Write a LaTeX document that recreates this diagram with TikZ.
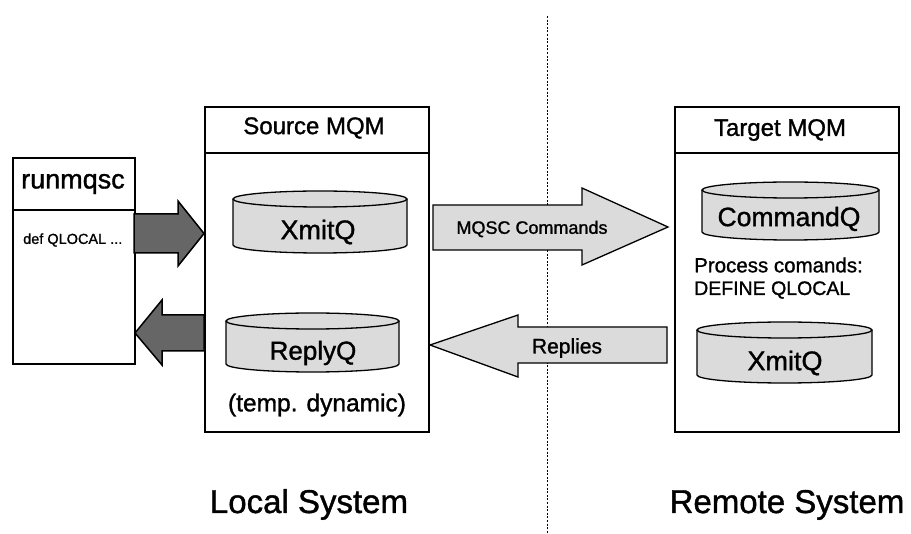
\documentclass[tikz,border=0pt]{standalone}
\usepackage{fontspec}
\setmainfont{Liberation Sans}[FakeBold=1.2]
\definecolor{qfill}{gray}{0.86}
\definecolor{hatchfill}{gray}{0.4}
\tikzset{
  box/.style={draw, line width=1.6pt, inner sep=0pt, anchor=north west},
  divider/.style={line width=1.4pt},
  cylline/.style={line width=1.3pt, fill=qfill},
  blockarrow/.style={draw, line width=1.3pt, line join=miter, fill=qfill},
  darkarrow/.style={draw, line width=1.5pt, line join=miter, fill=hatchfill},
  sep/.style={line width=1pt, dash pattern=on 2pt off 1.6pt},
  lbl/.style={inner sep=0pt},
}
% queue drum: left x, right x, top centre y, bottom centre y
\newcommand\qdrum[4]{%
  \pgfmathsetmacro\drx{(#2-#1)/2}%
  \pgfmathsetmacro\dcx{(#1+#2)/2}%
  \filldraw[cylline] (#1,#3) -- (#1,#4) arc[start angle=180, end angle=0, x radius=\drx, y radius=8] -- (#2,#3);
  \filldraw[cylline] (\dcx,#3) ellipse[x radius=\drx, y radius=8];
}
\begin{document}
\begin{tikzpicture}[x=1pt, y=-1pt]
\useasboundingbox (0,0) rectangle (911,534);

% dividing line between the two systems
\coordinate (septop) at (547,16);
\coordinate (sepbot) at (547,534);
\draw[sep] (septop) -- (sepbot);

% runmqsc panel
\node[box, minimum width=122pt, minimum height=206pt] (run) at (12,157) {};
\draw[divider] (12,210) -- (134,210);
\node[lbl, font=\fontsize{27}{30}\selectfont] (runT) at (73,184) {runmqsc};
\node[lbl, font=\fontsize{14.5}{17}\selectfont, anchor=west] (runC) at (23,240) {def QLOCAL ...};

% source queue manager
\node[box, minimum width=224pt, minimum height=325pt] (src) at (204,106) {};
\draw[divider] (204,153) -- (428,153);
\node[lbl, font=\fontsize{24}{28}\selectfont] (srcT) at (314,128) {Source MQM};
\qdrum{233}{407}{199}{245}
\node[lbl, font=\fontsize{27}{30}\selectfont] (xq1) at (318,232) {XmitQ};
\qdrum{226}{399}{321}{364}
\node[lbl, font=\fontsize{26}{30}\selectfont] (rq) at (313,353) {ReplyQ};
\node[lbl, font=\fontsize{24.5}{28}\selectfont] (tmp) at (317,405) {(temp. dynamic)};

% target queue manager
\node[box, minimum width=224pt, minimum height=325pt] (tgt) at (674,106) {};
\draw[divider] (674,153) -- (898,153);
\node[lbl, font=\fontsize{24}{28}\selectfont] (tgtT) at (780,130) {Target MQM};
\qdrum{702}{879}{190}{232}
\node[lbl, font=\fontsize{26.5}{30}\selectfont] (cq) at (789,219) {CommandQ};
\node[lbl, font=\fontsize{20.5}{24}\selectfont, anchor=west] (proc) at (694,265) {Process comands:};
\node[lbl, font=\fontsize{19.5}{24}\selectfont, anchor=west] (defq) at (694,290) {DEFINE QLOCAL};
\qdrum{697}{872}{330}{375}
\node[lbl, font=\fontsize{27}{30}\selectfont] (xq2) at (785,363) {XmitQ};

% runmqsc -> Source MQM
\draw[darkarrow] (134,214) -- (178,214) -- (178,201) -- (204,233.5) -- (178,266) -- (178,253) -- (134,253) -- cycle;
% Source MQM -> runmqsc
\draw[darkarrow] (204,315) -- (162,315) -- (162,300) -- (135,333) -- (162,365) -- (162,351) -- (204,351) -- cycle;

% commands to the remote system
\draw[blockarrow] (433,205) -- (582,205) -- (582,188) -- (668,227) -- (582,265) -- (582,250) -- (433,250) -- cycle;
\node[lbl, font=\fontsize{18}{22}\selectfont] (cmdL) at (532,229) {MQSC Commands};
% replies back to the local system
\draw[blockarrow] (667,327) -- (518,327) -- (518,315) -- (430,345) -- (518,377) -- (518,363) -- (667,363) -- cycle;
\node[lbl, font=\fontsize{21}{24}\selectfont] (repL) at (567,348) {Replies};

% system captions
\node[lbl, font=\fontsize{33}{38}\selectfont, anchor=base] (loc) at (309,513) {Local System};
\node[lbl, font=\fontsize{33}{38}\selectfont, anchor=base] (rem) at (787,513) {Remote System};
\end{tikzpicture}
\end{document}
